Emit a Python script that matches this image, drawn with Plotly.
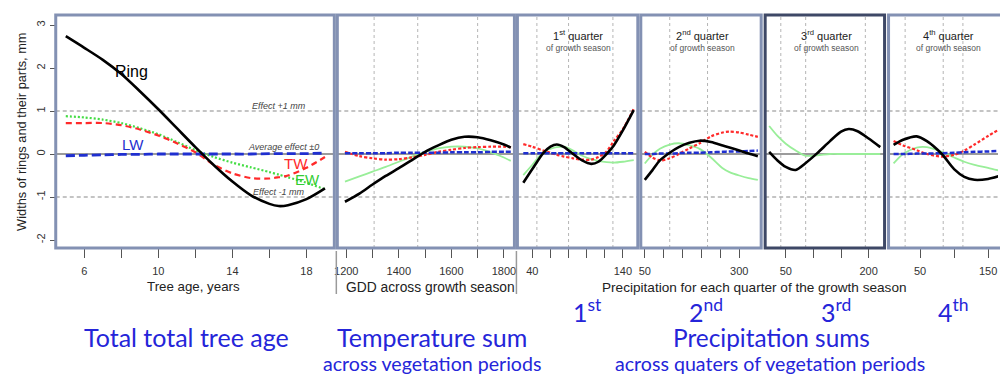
import plotly.graph_objects as go

W, H = 1000, 375

# ---- partial effects: tree age ----
age = [5, 6, 7, 8, 9, 10, 11, 12, 13, 14, 15, 16, 16.5, 17, 18, 19]
age_ring = [2.74, 2.47, 2.19, 1.86, 1.46, 1.04, 0.6, 0.16, -0.26, -0.64, -0.96, -1.16, -1.21, -1.19, -1.05, -0.8]
age_ew = [0.88, 0.85, 0.8, 0.72, 0.6, 0.46, 0.28, 0.09, -0.07, -0.2, -0.31, -0.42, -0.48, -0.54, -0.67, -0.82]
age_tw = [0.72, 0.72, 0.72, 0.67, 0.57, 0.43, 0.25, 0.04, -0.25, -0.45, -0.56, -0.57, -0.54, -0.5, -0.32, -0.07]
age_lw = [-0.04, -0.03, -0.02, -0.01, -0.01, 0.0, 0.0, 0.0, 0.0, 0.0, 0.0, 0.01, 0.01, 0.01, 0.01, 0.02]

# ---- partial effects: GDD ----
gdd = [1195, 1250, 1300, 1350, 1400, 1450, 1500, 1550, 1600, 1650, 1700, 1750, 1800, 1826]
gdd_ring = [-1.11, -0.92, -0.71, -0.51, -0.33, -0.14, 0.05, 0.2, 0.33, 0.4, 0.39, 0.32, 0.22, 0.15]
gdd_ew = [-0.64, -0.52, -0.41, -0.3, -0.18, -0.06, 0.05, 0.13, 0.17, 0.17, 0.13, 0.04, -0.08, -0.16]
gdd_tw = [0.05, -0.05, -0.1, -0.13, -0.12, -0.08, -0.02, 0.05, 0.1, 0.14, 0.16, 0.17, 0.17, 0.16]
gdd_lw = [0.02, 0.02, 0.02, 0.02, 0.03, 0.03, 0.03, 0.03, 0.04, 0.04, 0.04, 0.05, 0.05, 0.05]

# ---- partial effects: precipitation, 1st quarter ----
q1 = [30, 40, 52, 60, 67, 75, 85, 95, 105, 113, 122, 130, 140, 152]
q1_ring = [-0.67, -0.35, 0.02, 0.17, 0.22, 0.16, 0.0, -0.15, -0.23, -0.18, 0.0, 0.2, 0.55, 1.02]
q1_ew = [-0.49, -0.25, 0.05, 0.12, 0.16, 0.17, 0.08, -0.04, -0.12, -0.16, -0.19, -0.2, -0.18, -0.14]
q1_tw = [0.23, 0.17, 0.08, 0.03, -0.02, -0.06, -0.1, -0.13, -0.13, -0.07, 0.06, 0.3, 0.58, 1.05]
q1_lw = [0.02, 0.02, 0.02, 0.02, 0.02, 0.02, 0.02, 0.02, 0.02, 0.02, 0.02, 0.02, 0.02, 0.02]

# ---- 2nd quarter ----
q2 = [50, 70, 90, 116, 140, 168, 195, 225, 256, 274, 300, 325, 349]
q2_ring = [-0.6, -0.38, -0.15, 0.03, 0.16, 0.26, 0.31, 0.28, 0.2, 0.15, 0.08, 0.01, -0.05]
q2_ew = [-0.22, -0.02, 0.12, 0.22, 0.25, 0.2, 0.12, -0.08, -0.33, -0.42, -0.5, -0.56, -0.6]
q2_tw = [0.05, -0.08, -0.15, -0.1, 0.0, 0.13, 0.25, 0.41, 0.5, 0.52, 0.5, 0.45, 0.4]
q2_lw = [0.0, 0.0, 0.01, 0.01, 0.02, 0.03, 0.03, 0.04, 0.05, 0.06, 0.06, 0.07, 0.08]

# ---- 3rd quarter ----
q3 = [20, 35, 50, 68, 85, 107, 130, 150, 164, 180, 200, 221]
q3_ring = [0.05, -0.15, -0.3, -0.37, -0.22, 0.02, 0.3, 0.52, 0.58, 0.53, 0.36, 0.16]
q3_ew = [0.65, 0.42, 0.24, 0.08, -0.04, -0.03, 0.0, 0.0, 0.0, 0.0, 0.0, 0.0]

# ---- 4th quarter ----
q4 = [11, 25, 45, 60, 82, 100, 115, 130, 150, 165]
q4_ring = [0.21, 0.33, 0.41, 0.3, 0.0, -0.35, -0.53, -0.6, -0.58, -0.52]
q4_ew = [-0.22, 0.0, 0.15, 0.16, 0.05, -0.08, -0.18, -0.25, -0.32, -0.38]
q4_tw = [0.3, 0.2, 0.09, 0.0, -0.06, -0.02, 0.08, 0.22, 0.42, 0.56]
q4_lw = [0.0, 0.0, 0.01, 0.01, 0.02, 0.03, 0.04, 0.05, 0.06, 0.07]

# ---- axis ticks: labelled values and all tick marks ----
age_labels = [6, 10, 14, 18]
age_marks = [6, 8, 10, 12, 14, 16, 18]
gdd_labels = [1200, 1400, 1600, 1800]
gdd_marks = [1200, 1300, 1400, 1500, 1600, 1700, 1800]
q1_labels = [40, 140]
q1_marks = [40, 60, 80, 100, 120, 140]
q2_labels = [50, 300]
q2_marks = [50, 100, 150, 200, 250, 300]
q3_labels = [50, 200]
q3_marks = [50, 100, 150, 200]
q4_labels = [50, 150]
q4_marks = [50, 100, 150]
y_ticks = [-2, -1, 0, 1, 2, 3]

# dotted vertical guides inside the climate panels
gdd_guides = [1306, 1472, 1700]
q1_guides = [45, 80, 129]
q2_guides = [116, 216]
q3_guides = [41, 86, 194]
q4_guides = [28, 84, 113]

# ---- layout geometry (pixel columns of each panel) ----
TOP, BOTTOM = 15, 248
panels = [
    # (axis id, left px, right px, range, labelled ticks, tick marks, guides)
    ("x", 53, 333, [4.457, 19.505], age_labels, age_marks, []),
    ("x2", 336, 514, [1166, 1840], gdd_labels, gdd_marks, gdd_guides),
    ("x3", 517, 638, [23.5, 156.5], q1_labels, q1_marks, q1_guides),
    ("x4", 641, 762, [39.5, 357.9], q2_labels, q2_marks, q2_guides),
    ("x5", 766, 886, [12.7, 228.8], q3_labels, q3_marks, q3_guides),
    ("x6", 890, 1000, [3.6, 164.6], q4_labels, q4_marks, q4_guides),
]

BLACK = "#000000"
RED = "#ff2a2a"
GREEN1 = "#44dd44"
GREEN2 = "#99ee99"
BLUE = "#1f2fd0"
GRID = "#8a8a8a"
FRAME = "#8391b3"

fig = go.Figure()


def add(xid, x, y, color, width, dash="solid"):
    fig.add_trace(go.Scatter(
        x=x, y=y, xaxis=xid, yaxis="y", mode="lines",
        line=dict(color=color, width=width, dash=dash, shape="spline", smoothing=0.8),
        showlegend=False, hoverinfo="skip"))


# tree age panel
add("x", age, age_ew, GREEN1, 2.2, "2px,2px")
add("x", age, age_tw, RED, 2.2, "6px,4px")
add("x", age, age_lw, BLUE, 2.8, "9px,4px")
add("x", age, age_ring, BLACK, 2.6)

# GDD panel
add("x2", gdd, gdd_ew, GREEN2, 1.8)
add("x2", gdd, gdd_tw, RED, 2.2, "3px,2px")
add("x2", gdd, gdd_lw, BLUE, 2.5, "5px,2px")
add("x2", gdd, gdd_ring, BLACK, 2.6)

# precipitation panels
add("x3", q1, q1_ew, GREEN2, 1.8)
add("x3", q1, q1_tw, RED, 2.2, "3px,2px")
add("x3", q1, q1_lw, BLUE, 2.5, "5px,2px")
add("x3", q1, q1_ring, BLACK, 2.6)

add("x4", q2, q2_ew, GREEN2, 1.8)
add("x4", q2, q2_tw, RED, 2.2, "3px,2px")
add("x4", q2, q2_lw, BLUE, 2.5, "5px,2px")
add("x4", q2, q2_ring, BLACK, 2.6)

add("x5", q3, q3_ew, GREEN2, 1.8)
add("x5", q3, q3_ring, BLACK, 2.6)

add("x6", q4, q4_ew, GREEN2, 1.8)
add("x6", q4, q4_tw, RED, 2.2, "3px,2px")
add("x6", q4, q4_lw, BLUE, 2.5, "5px,2px")
add("x6", q4, q4_ring, BLACK, 2.6)

TICKFONT = dict(family="Liberation Sans, Arial, sans-serif", size=11, color="#333333")

layout = dict(
    width=W, height=H,
    margin=dict(l=0, r=0, t=0, b=0),
    paper_bgcolor="white", plot_bgcolor="white",
    showlegend=False,
    yaxis=dict(
        domain=[1 - BOTTOM / H, 1 - TOP / H], range=[-2.186, 3.233],
        tickvals=y_ticks, ticktext=[str(v) for v in y_ticks], tickangle=-90,
        ticks="outside", ticklen=5, tickcolor="#555", tickwidth=1,
        showgrid=False, zeroline=False, showline=False,
        tickfont=TICKFONT, anchor="x",
    ),
)

shapes = []
for xid, left, right, rng, labelled, marks, guides in panels:
    key = "xaxis" if xid == "x" else "xaxis" + xid[1:]
    layout[key] = dict(
        domain=[left / W, right / W], range=rng, anchor="y",
        tickvals=labelled, ticktext=[str(v) for v in labelled],
        ticks="outside", ticklen=9, tickcolor="#555", tickwidth=1,
        minor=dict(tickvals=marks, ticks="outside", ticklen=9, tickcolor="#555",
                   tickwidth=1, showgrid=False),
        showgrid=False, zeroline=False, showline=False,
        tickfont=TICKFONT, ticklabelstandoff=4,
    )
    dref = xid + " domain"
    # reference lines at +1, 0, -1
    for yv, dash, col, w in [(1, "4px,3px", GRID, 1.2), (-1, "4px,3px", GRID, 1.2), (0, "solid", "#7a7a7a", 1.6)]:
        shapes.append(dict(type="line", xref=dref, yref="y", x0=0, x1=1, y0=yv, y1=yv,
                           line=dict(color=col, width=w, dash=dash), layer="below"))
    for g in guides:
        shapes.append(dict(type="line", xref=xid, yref="y domain", x0=g, x1=g, y0=0, y1=1,
                           line=dict(color="#b5b5b5", width=1, dash="3px,3px"), layer="below"))
    frame_col = "#3e4866" if xid == "x5" else FRAME
    x1 = 1.2 if xid == "x6" else 1
    shapes.append(dict(type="rect", xref=dref, yref="y domain", x0=0, x1=x1, y0=0, y1=1,
                       line=dict(color=frame_col, width=3), layer="above"))

# separators between the axis-title blocks
for sx in (335, 516):
    shapes.append(dict(type="line", xref="paper", yref="paper",
                       x0=sx / W, x1=sx / W, y0=1 - 251 / H, y1=1 - 294 / H,
                       line=dict(color="#9a9a9a", width=1.5)))

layout["shapes"] = shapes


def px(xp, yp):
    return xp / W, 1 - yp / H


ann = []


def note(text, xp, yp, size, color="#222", family="Liberation Sans, Arial, sans-serif",
         angle=0, yanchor="middle"):
    x, y = px(xp, yp)
    ann.append(dict(text=text, x=x, y=y, xref="paper", yref="paper", showarrow=False,
                    xanchor="center", yanchor=yanchor, textangle=angle,
                    font=dict(size=size, color=color, family=family)))


# axis titles
note("Widths of rings and their parts, mm", 18, 132, 12.8, angle=-90)
note("Tree age, years", 191, 286, 13.3)
note("GDD across growth season", 430, 287, 13.8)
note("Precipitation for each quarter of the growth season", 755, 287, 13.6)

# quarter headings
for label, xp in [("1<sup>st</sup> quarter", 578), ("2<sup>nd</sup> quarter", 703),
                  ("3<sup>rd</sup> quarter", 828), ("4<sup>th</sup> quarter", 950)]:
    note(label, xp, 35, 11)
    note("of growth season", xp, 48, 8.5, color="#555")


# reference line labels and curve names in the age panel
def datanote(text, x, y, size, color, italic=False):
    ann.append(dict(text=f"<i>{text}</i>" if italic else text, x=x, y=y, xref="x", yref="y",
                    showarrow=False, xanchor="center", yanchor="middle",
                    font=dict(size=size, color=color, family="Liberation Sans, Arial, sans-serif")))


datanote("Effect +1 mm", 16.5, 1.12, 9, "#444", italic=True)
datanote("Average effect ±0", 16.76, 0.16, 9, "#444", italic=True)
datanote("Effect -1 mm", 16.5, -0.88, 9, "#444", italic=True)
datanote("Ring", 8.55, 1.92, 16, BLACK)
datanote("LW", 8.65, 0.23, 15, BLUE)
datanote("TW", 17.42, -0.22, 15, RED)
datanote("EW", 18.05, -0.6, 15, "#33cc33")

# big blue captions
CAP = "Lato, Carlito, sans-serif"
CAPC = "#2525d9"
note("Total total tree age", 184, 337, 25, CAPC, CAP)
note("Temperature sum", 431, 337, 25, CAPC, CAP)
note("across vegetation periods", 431, 363, 19.6, CAPC, CAP)
note("Precipitation sums", 772, 337, 24.4, CAPC, CAP)
note("across quaters of vegetation periods", 771, 363, 19.6, CAPC, CAP)
for label, xp in [("1<sup>st</sup>", 587), ("2<sup>nd</sup>", 707), ("3<sup>rd</sup>", 837), ("4<sup>th</sup>", 955)]:
    note(label, xp, 329, 25, CAPC, CAP, yanchor="bottom")

layout["annotations"] = ann
fig.update_layout(**layout)
fig.write_html("out.html")
